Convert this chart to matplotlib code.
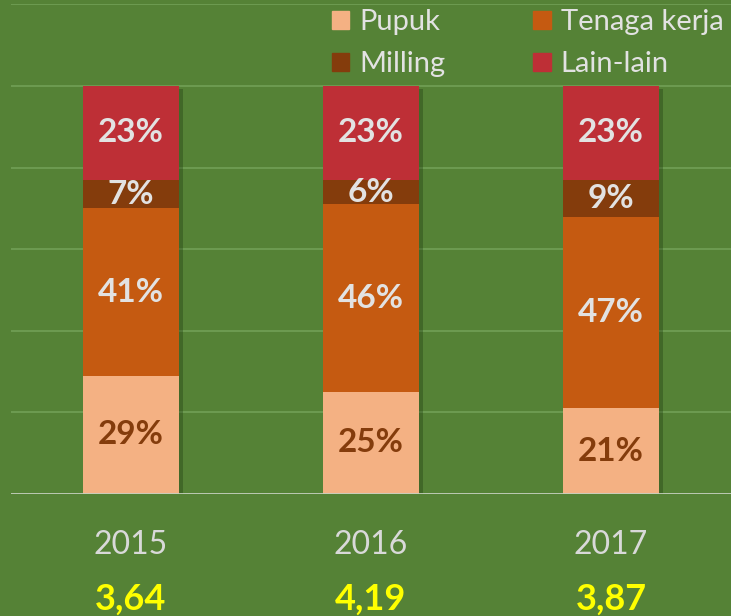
import numpy as np
from matplotlib import pyplot as plt
from matplotlib.patches import Patch
import matplotlib.patheffects as pe

plt.rcParams['font.family'] = ['Lato', 'DejaVu Sans']

years = ['2015', '2016', '2017']
totals = ['3,64', '4,19', '3,87']
series_names = ['Pupuk', 'Tenaga kerja', 'Milling', 'Lain-lain']
pupuk = [29, 25, 21]
tenaga_kerja = [41, 46, 47]
milling = [7, 6, 9]
lain_lain = [23, 23, 23]

colors = ['#f4b183', '#c55a11', '#843c0c', '#be2f36']
label_colors = ['#843c0c', '#e2e2e2', '#e2e2e2', '#e2e2e2']
bg = '#558236'

fig = plt.figure(figsize=(7.31, 6.16), dpi=100, facecolor=bg)
ax = fig.add_axes([11 / 731, 122 / 616, 720 / 731, 489.6 / 616])
ax.set_facecolor(bg)

x = np.arange(len(years))
stack = np.sum([pupuk, tenaga_kerja, milling, lain_lain], axis=0)
# shadow behind the whole stack
sh = ax.bar(x, stack, width=0.4, color='#558236', zorder=2)
for b in sh:
    b.set_path_effects([pe.SimplePatchShadow(offset=(3, -2), alpha=0.35, shadow_rgbFace='#1e3a10'), pe.Normal()])

bottom = np.zeros(len(years))
for vals, name, c, lc in zip([pupuk, tenaga_kerja, milling, lain_lain], series_names, colors, label_colors):
    ax.bar(x, vals, width=0.4, bottom=bottom, color=c, label=name, zorder=3)
    for xi, v, b0 in zip(x, vals, bottom):
        ax.text(xi, b0 + v / 2, f'{v}%', ha='center', va='center', color=lc,
                fontsize=24, fontweight='bold', zorder=4)
    bottom += np.array(vals)

ax.set_xlim(-0.5, 2.5)
ax.set_ylim(0, 120)
ax.set_yticks([20, 40, 60, 80, 100, 120])
ax.grid(axis='y', color='#6f9d53', linewidth=1.3, zorder=0)
ax.axhline(0, color='#c6d0bf', linewidth=2, zorder=5)
ax.tick_params(left=False, bottom=False, labelleft=False, labelbottom=False)
for s in ax.spines.values():
    s.set_visible(False)

for xi, yr, tot in zip(x, years, totals):
    ax.text(xi, -12.5, yr, ha='center', va='center', color='#d9d9d9', fontsize=23, clip_on=False)
    ax.text(xi, -25.8, tot, ha='center', va='center', color='#ffff00', fontsize=26,
            fontweight='bold', clip_on=False)

handles = [Patch(color=colors[0]), Patch(color=colors[2]), Patch(color=colors[1]), Patch(color=colors[3])]
labels = [series_names[0], series_names[2], series_names[1], series_names[3]]
fig.legend(handles, labels, ncol=2, frameon=False, loc='upper left', bbox_to_anchor=(320 / 731, 1.004),
           fontsize=21, labelcolor='#e2e2e2', handlelength=0.6, handleheight=0.6, handletextpad=0.35,
           columnspacing=3.0, labelspacing=0.55, borderaxespad=0.0)

fig.savefig('out.png', dpi=100, facecolor=bg)
